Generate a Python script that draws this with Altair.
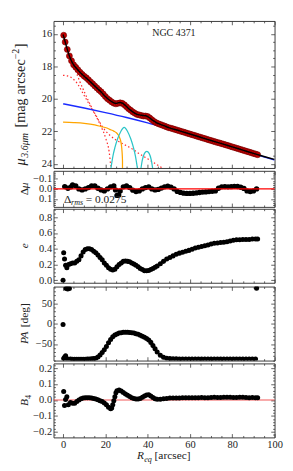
import altair as alt
import pandas as pd

FONT = "Liberation Serif"
W = 233
XDOM = [-4.5, 100]
X_MAJ = [0, 20, 40, 60, 80, 100]
X_MIN = [5, 10, 15, 25, 30, 35, 45, 50, 55, 65, 70, 75, 85, 90, 95]

# ---------------- surface brightness profile ----------------
R_data = [0.3] + list(range(1, 93))
mu_data = [16.08, 16.5, 16.95, 17.35, 17.65, 17.9, 18.05, 18.2, 18.35, 18.48,
           18.6, 18.7, 18.82, 18.95, 19.07, 19.2, 19.32, 19.45, 19.56, 19.7,
           19.85, 19.98, 20.08, 20.18, 20.26, 20.3, 20.27, 20.24, 20.27, 20.36,
           20.48, 20.6, 20.7, 20.8, 20.88, 20.95, 20.98, 21.02, 21.05, 21.05,
           21.08, 21.17, 21.28, 21.38, 21.46, 21.52, 21.57, 21.62, 21.67, 21.72,
           21.77, 21.8, 21.84, 21.88, 21.92, 21.96, 22.0, 22.04, 22.08, 22.12,
           22.16, 22.2, 22.24, 22.28, 22.32, 22.36, 22.4, 22.44, 22.48, 22.52,
           22.56, 22.6, 22.64, 22.68, 22.71, 22.75, 22.79, 22.83, 22.87, 22.91,
           22.95, 22.99, 23.03, 23.07, 23.11, 23.15, 23.19, 23.23, 23.27, 23.31,
           23.35, 23.39, 23.43]

R_model = [0, 1, 2, 3, 4, 5, 6, 8, 10, 12, 14, 16, 18, 20, 22, 23, 24, 25, 26, 27,
           28, 29, 30, 32, 34, 36, 37, 38, 39, 40, 41, 42, 43, 44, 46, 48, 50, 55, 60,
           65, 70, 75, 80, 85, 90, 95, 100]
mu_model = [16.03, 16.48, 16.95, 17.35, 17.66, 17.9, 18.06, 18.36, 18.6, 18.83, 19.08,
            19.33, 19.57, 19.85, 20.08, 20.17, 20.24, 20.27, 20.24, 20.22, 20.26, 20.35,
            20.47, 20.7, 20.88, 20.98, 21.0, 21.02, 21.03, 21.08, 21.17, 21.28, 21.37,
            21.45, 21.56, 21.66, 21.76, 21.96, 22.16, 22.36, 22.56, 22.75, 22.95, 23.15,
            23.35, 23.54, 23.72]

R_sA = [0, 1, 2, 3, 4, 6, 8, 10, 12, 14, 16, 18, 20, 22, 25, 28, 30, 33, 36, 40, 43, 47.5]
mu_sA = [16.08, 16.5, 16.95, 17.35, 17.7, 18.3, 18.95, 19.55, 20.12, 20.65, 21.12,
         21.58, 21.95, 22.22, 22.52, 22.74, 22.88, 23.1, 23.37, 23.68, 23.93, 24.3]
R_sB = [0, 2, 4.5, 7, 9, 12, 15, 18, 20.3, 21.8, 22.5, 22.8]
mu_sB = [18.55, 18.58, 18.74, 19.1, 19.56, 20.24, 20.92, 21.7, 22.47, 23.25, 24.03, 24.3]
R_disk = [0, 10, 20, 30, 40, 50, 60, 70, 80, 90, 100]
mu_disk = [20.3, 20.56, 20.84, 21.14, 21.47, 21.83, 22.2, 22.58, 22.97, 23.37, 23.76]
R_bar = [0, 5, 10, 15, 18, 20.7, 22, 24, 25.2, 26.7, 27.5, 27.9, 28.1, 28.1]
mu_bar = [21.42, 21.45, 21.5, 21.6, 21.7, 21.79, 21.87, 21.98, 22.08, 22.37, 22.76,
          23.25, 23.8, 24.3]
R_ring1 = [22.6, 23.6, 24.5, 25.8, 27.3, 28.9, 30.5, 32.0, 33.3, 34.2, 35.2]
mu_ring1 = [24.3, 23.5, 23.0, 22.45, 22.0, 21.75, 22.0, 22.45, 23.0, 23.5, 24.3]
R_ring2 = [36.8, 37.5, 38.5, 39.6, 40.7, 41.7, 42.4]
mu_ring2 = [24.3, 23.75, 23.35, 23.22, 23.35, 23.75, 24.3]

# ---------------- residuals ----------------
R_res = [0.8, 2.3, 3.8, 4.5, 6, 7.5, 9, 10.5, 12, 13.5, 15, 16.5, 18, 19.5, 21, 22.5,
         24, 24.8, 25.5, 26.3, 27, 28.5, 30, 31.5, 33, 34.5, 36, 37.5, 39, 40.5, 42,
         43.5, 45, 46.5, 48, 49.5, 51, 52.5, 54, 55.5, 57, 58.5, 60, 61.5, 63, 64.5,
         66, 67.5, 69, 70.5, 72, 73.5, 75, 76.5, 78, 79.5, 81, 82.5, 84, 85.5, 87,
         88.5, 90, 91.5]
d_res = [-0.023, -0.006, -0.02, -0.04, -0.03, 0.0, 0.01, 0.0, -0.013, -0.03,
         -0.03, -0.006, 0.01, 0.02, 0.0, -0.02, -0.03, 0.01, 0.065, 0.06,
         0.02, -0.02, -0.03, -0.013, 0.013, 0.026, 0.02, 0.0, -0.013, -0.02,
         0.0, 0.01, 0.005, -0.008, -0.02, -0.028, -0.018, 0.0, 0.025, 0.035,
         0.043, 0.045, 0.045, 0.044, 0.04, 0.036, 0.032, 0.03, 0.027, 0.024,
         0.02, -0.006, -0.02, -0.022, -0.02, -0.022, -0.025, -0.024, -0.016, -0.005,
         0.02, 0.026, 0.02, 0.0]

# ---------------- isophote parameters ----------------
R_iso = [0.0, 0.3, 0.7, 1.2, 1.8, 2.6, 3.5, 4.5, 5.5, 6.5, 7.5, 8.5, 9.5, 10.5, 11.5,
         12.5, 13.5, 14.5, 15.5, 16.5, 17.5, 18.5, 19.5, 20.5, 21.5, 22.5, 23.5, 24.5,
         25.5, 26.5, 27.5, 28.5, 29.5, 30.5, 31.5, 32.5, 33.5, 34.5, 35.5, 36.5, 37.5,
         38.5, 39.5, 40.5, 41.5, 42.5, 43.5, 44.5, 46, 47.5, 49, 50.5, 52, 53.5, 55,
         56.5, 58, 59.5, 61, 62.5, 64, 65.5, 67, 68.5, 70, 71.5, 73, 74.5, 76, 77.5,
         79, 80.5, 82, 83.5, 85, 86.5, 88, 89.5, 91, 92]
ell = [0.0, 0.35, 0.27, 0.19, 0.16, 0.2, 0.21, 0.22, 0.22, 0.24,
       0.26, 0.31, 0.36, 0.39, 0.40, 0.40, 0.39, 0.37, 0.35, 0.32,
       0.29, 0.26, 0.22, 0.19, 0.16, 0.14, 0.13, 0.14, 0.17, 0.2,
       0.22, 0.24, 0.245, 0.24, 0.235, 0.22, 0.205, 0.19, 0.17, 0.15,
       0.135, 0.12, 0.12, 0.125, 0.135, 0.15, 0.165, 0.18, 0.21, 0.24,
       0.27, 0.29, 0.31, 0.33, 0.345, 0.355, 0.37, 0.38, 0.395, 0.41,
       0.42, 0.43, 0.44, 0.45, 0.46, 0.47, 0.475, 0.48, 0.485, 0.49,
       0.5, 0.51, 0.515, 0.515, 0.52, 0.52, 0.52, 0.525, 0.525, 0.525]

R_pa = [0.0, 0.3, 0.7, 1.2, 1.5, 1.8, 2.2, 3.0, 3.5, 4.5, 5.5, 6.5, 7.5, 8.5, 9.5, 10.5,
        11.5, 12.5, 13.5, 14.5, 15.5, 16.5, 17.5, 18.5, 19.5, 20.5, 21.5, 22.5, 23.5,
        24.5, 25.5, 26.5, 27.5, 28.5, 29.5, 30.5, 31.5, 32.5, 33.5, 34.5, 35.5, 36.5,
        37.5, 38.5, 39.5, 40.5, 41.5, 42.5, 43.5, 44.5, 46, 47.5, 49, 50.5, 52, 53.5,
        55, 56.5, 58, 59.5, 61, 62.5, 64, 65.5, 67, 68.5, 70, 71.5, 73, 74.5, 76, 77.5,
        79, 80.5, 82, 83.5, 85, 86.5, 88, 89.5, 91, 91.5]
pa = [-2, -86, -83, -79, 87, -86, 86, 87, -87, -87.5,
      -87.5, -87.5, -87.5, -87.5, -87.5, -87.5, -87, -87, -86.5, -86,
      -85, -82, -77, -71, -64, -56, -47, -39, -32, -27.5,
      -25, -23, -22, -21, -21, -21, -21.5, -22, -23, -24.5,
      -26, -28.5, -31, -33.5, -36.5, -40, -46, -54, -62, -70,
      -78, -83, -85, -86, -86.5, -86.5, -87, -87, -87, -87,
      -87, -87, -87, -87, -87, -87, -87, -87, -87, -87,
      -87, -87, -87, -87, -87, -87, -87, -87, -87, -87,
      -87, 88]

R_b4 = [0.3, 0.7, 1.2, 1.8, 2.5, 3.5, 4.5, 5.5, 6.5, 7.5, 8.5, 9.5, 10.5, 11.5, 12.5,
        13.5, 14.5, 15.5, 16.5, 17.5, 18.5, 19.5, 20.5, 21.5, 22.5, 23.0, 23.5, 24.0,
        24.5, 25.0, 25.5, 26.5, 27.5, 28.5, 29.5, 30.5, 31.5, 32.5, 33.5, 34.5, 35.5,
        36.5, 37.5, 38.5, 39.5, 40.5, 41.5, 42.5, 43.5, 44.5, 46, 47.5, 49, 50.5, 52,
        53.5, 55, 56.5, 58, 59.5, 61, 62.5, 64, 65.5, 67, 68.5, 70, 71.5, 73, 74.5, 76,
        77.5, 79, 80.5, 82, 83.5, 85, 86.5, 88, 89.5, 91, 92]
b4 = [0.053, -0.035, 0.004, 0.02, -0.03, -0.016, -0.02, -0.02, -0.01, 0.0,
      0.008, 0.012, 0.014, 0.014, 0.014, 0.012, 0.01, 0.006, 0.002, -0.004,
      -0.01, -0.018, -0.03, -0.045, -0.055, -0.05, -0.03, -0.005, 0.02, 0.045,
      0.058, 0.063, 0.056, 0.047, 0.038, 0.03, 0.022, 0.015, 0.01, 0.006,
      0.006, 0.01, 0.018, 0.026, 0.032, 0.033, 0.026, 0.016, 0.008, 0.005,
      0.005, 0.008, 0.01, 0.012, 0.012, 0.013, 0.013, 0.014, 0.014, 0.015,
      0.014, 0.014, 0.015, 0.016, 0.015, 0.015, 0.016, 0.017, 0.016, 0.016,
      0.017, 0.018, 0.017, 0.016, 0.016, 0.017, 0.017, 0.016, 0.015, 0.016,
      0.015, 0.014]


def df(r, v):
    return pd.DataFrame({"R": r, "v": v, "i": list(range(len(r)))})


def axis(orient, values, size, labels=False, fmt=None):
    kw = dict(orient=orient, values=values, tickSize=size, offset=-size, domain=False,
              grid=False, labels=labels, tickColor="#333333", tickWidth=0.8,
              labelPadding=2, labelOverlap=False, labelFlush=False, title=None)
    if fmt is not None:
        kw["format"] = fmt
    return alt.Axis(**kw)


def panel(layers, ydom, yrev, ymaj, ymin, yfmt, h, xlabels=False):
    xs = alt.Scale(domain=XDOM, nice=False, zero=False)
    ys = alt.Scale(domain=ydom, reverse=yrev, nice=False, zero=False)
    xa = axis("bottom", X_MAJ, 4, labels=xlabels, fmt="d" if xlabels else None)
    ya = axis("left", ymaj, 4, labels=True, fmt=yfmt)
    X = alt.X("R:Q", scale=xs, axis=xa)
    Y = alt.Y("v:Q", scale=ys, axis=ya)
    inner = []
    for kind, chart in layers:
        if kind == "data":
            inner.append(chart.encode(x=X, y=Y))
        elif kind == "rule":
            inner.append(chart.encode(y=Y))
        else:
            inner.append(chart)
    dummy = df([50], [ydom[0]])

    def frame(xaxis, yaxis):
        return alt.Chart(dummy).mark_point(opacity=0, size=1).encode(
            x=alt.X("R:Q", scale=xs, axis=xaxis), y=alt.Y("v:Q", scale=ys, axis=yaxis))

    f1 = frame(axis("top", X_MAJ, 4), axis("right", ymaj, 4))
    f2 = frame(axis("bottom", X_MIN, 2), axis("left", ymin, 2))
    f3 = frame(axis("top", X_MIN, 2), axis("right", ymin, 2))
    return alt.layer(alt.layer(*inner), f1, f2, f3).resolve_axis(
        x="independent", y="independent").properties(width=W, height=h)


def txt(s, x, y, size, style="normal", angle=0, align="left", color="#222222"):
    kw = dict(font=FONT, fontSize=size, fontStyle=style, align=align,
              baseline="alphabetic", color=color)
    if angle:
        kw["angle"] = angle
    return ("text", alt.Chart(pd.DataFrame({"t": [s]})).mark_text(**kw).encode(
        x=alt.value(x), y=alt.value(y), text="t:N"))


def line(r, v, color, width, dash=None):
    kw = dict(color=color, strokeWidth=width, clip=True, interpolate="monotone")
    if dash:
        kw["strokeDash"] = dash
    return ("data", alt.Chart(df(r, v)).mark_line(**kw).encode(order="i:Q"))


def pts(r, v, size, fill="black", stroke=None):
    kw = dict(filled=True, size=size, color=fill, opacity=1, clip=True)
    if stroke:
        kw.update(stroke=stroke, strokeWidth=0.6)
    return ("data", alt.Chart(df(r, v)).mark_point(**kw))


def rule_layer(color, width, opacity=1.0):
    return ("rule", alt.Chart(pd.DataFrame({"v": [0.0]})).mark_rule(
        color=color, strokeWidth=width, opacity=opacity))


H1, H2, H3, H4, H5 = 155, 38, 78, 78, 78
TX = -27  # baseline x of rotated axis titles (plot coords)
MU_X = -30
mu_title = [
    txt("μ", MU_X, 152.4, 15, "italic", 270),
    txt("3.6μm", MU_X + 3.5, 144.1, 10.5, "italic", 270),
    txt("[mag arcsec", MU_X, 112.4, 15, "normal", 270),
    txt("−2", MU_X - 6, 40.4, 10.5, "normal", 270),
    txt("]", MU_X, 28.7, 15, "normal", 270),
]

p1 = panel(
    [
        line(R_sB, mu_sB, "#ff2a2a", 1.3, [1.5, 2.5]),
        line(R_sA, mu_sA, "#ff2a2a", 1.3, [1.5, 2.5]),
        line(R_bar, mu_bar, "#ffa500", 1.3),
        line(R_ring1, mu_ring1, "#2cc5c8", 1.3),
        line(R_ring2, mu_ring2, "#2cc5c8", 1.3),
        line(R_disk, mu_disk, "#1a2bff", 1.5),
        pts(R_data, mu_data, 40, fill="#c00000", stroke="#700000"),
        line(R_model, mu_model, "black", 1.5),
        txt("NGC 4371", 104, 16, 10.5),
    ] + mu_title,
    [15.2, 24.25], True, [16, 18, 20, 22, 24],
    [15.5, 16.5, 17, 17.5, 18.5, 19, 19.5, 20.5, 21, 21.5, 22.5, 23, 23.5],
    "d", H1)

p2 = panel(
    [
        pts(R_res, d_res, 32),
        rule_layer("#ff0000", 1.3),
        txt("Δ", 11, 33.5, 12),
        txt("rms", 18.5, 36, 8.5, "italic"),
        txt("= 0.0275", 34, 33.5, 12),
        txt("Δ", TX, 25.6, 12, "normal", 270),
        txt("μ", TX, 18.3, 12, "italic", 270),
    ],
    [-0.18, 0.18], True, [-0.1, 0.0, 0.1],
    [-0.16, -0.14, -0.12, -0.08, -0.06, -0.04, -0.02, 0.02, 0.04, 0.06, 0.08,
     0.12, 0.14, 0.16],
    ".1f", H2)

p3 = panel(
    [pts(R_iso, ell, 28), txt("e", TX, 41.6, 12, "italic", 270)],
    [-0.033, 0.91], False, [0.0, 0.2, 0.4, 0.6, 0.8],
    [0.05, 0.1, 0.15, 0.25, 0.3, 0.35, 0.45, 0.5, 0.55, 0.65, 0.7, 0.75, 0.85, 0.9],
    ".1f", H3)

p4 = panel(
    [
        pts(R_pa, pa, 28),
        txt("PA", TX, 60.5, 12, "italic", 270),
        txt("[deg]", TX, 42.8, 12, "normal", 270),
    ],
    [-91, 92], False, [-50, 0, 50],
    [-90, -80, -70, -60, -40, -30, -20, -10, 10, 20, 30, 40, 60, 70, 80, 90],
    "d", H4)

p5 = panel(
    [
        rule_layer("#f03c3c", 1.2, 0.85),
        pts(R_b4, b4, 28),
        txt("B", TX, 44.8, 12, "italic", 270),
        txt("4", TX + 3, 37.5, 8.5, "normal", 270),
        txt("R", 88, 101, 12, "italic"),
        txt("eq", 95.5, 103.5, 8.5, "italic"),
        txt("[arcsec]", 106.5, 101, 12),
    ],
    [-0.235, 0.23], False, [-0.2, -0.1, 0.0, 0.1, 0.2],
    [-0.22, -0.18, -0.16, -0.14, -0.12, -0.08, -0.06, -0.04, -0.02, 0.02, 0.04,
     0.06, 0.08, 0.12, 0.14, 0.16, 0.18, 0.22],
    ".1f", H5, xlabels=True)

chart = alt.vconcat(p1, p2, p3, p4, p5, spacing=0).properties(
    padding={"left": 3, "top": 0, "right": 2, "bottom": 0}
).configure_view(stroke="#333333", strokeWidth=1).configure_axis(
    labelFont=FONT, labelFontSize=11, labelColor="#222222",
    titleFont=FONT, titleFontSize=12, titleColor="#222222", titleFontWeight="normal"
)

chart.save("out.html", embed_options={"renderer": "svg", "actions": False})
